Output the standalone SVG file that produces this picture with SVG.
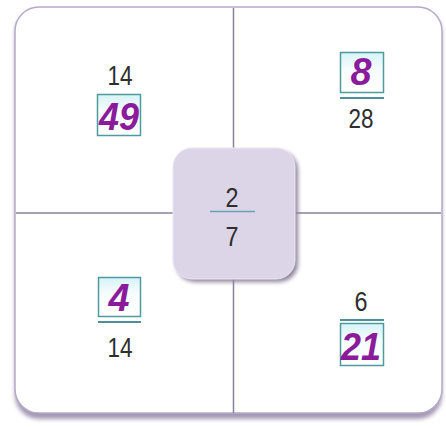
<svg xmlns="http://www.w3.org/2000/svg" width="446" height="428" viewBox="0 0 446 428">
<defs>
<linearGradient id="boxg" x1="0" y1="0" x2="0" y2="1">
<stop offset="0" stop-color="#d6f3f8"/>
<stop offset="0.4" stop-color="#f6fcfd"/>
<stop offset="1" stop-color="#ffffff"/>
</linearGradient>
<filter id="blur" x="-20%" y="-20%" width="140%" height="140%">
<feGaussianBlur stdDeviation="2"/>
</filter>
</defs>
<style>
.num{font-family:"Liberation Sans",Arial,sans-serif;font-size:28px;fill:#2e2e2e;text-anchor:middle}
.ans{font-family:"Liberation Sans",Arial,sans-serif;font-size:38px;font-weight:bold;font-style:italic;fill:#8a1c9c;text-anchor:middle}
.box{fill:url(#boxg);stroke:#4f9a9c;stroke-width:1.5}
.bar{stroke:#4f8f99;stroke-width:2}
.div{stroke:#8a7f9e;stroke-width:1.5;fill:none}
</style>
<rect width="446" height="428" fill="#ffffff"/>
<g id="frame">
<rect x="15" y="10" width="427" height="409" rx="24" fill="#a398b4" filter="url(#blur)"/>
<rect x="15" y="7" width="427" height="406" rx="24" fill="#ffffff" stroke="#b6abc6" stroke-width="1.5"/>
</g>
<g id="connectors">
<line class="div" x1="233.5" y1="8" x2="233.5" y2="150"/>
<line class="div" x1="233.5" y1="278" x2="233.5" y2="413"/>
<line class="div" x1="16" y1="213" x2="175" y2="213"/>
<line class="div" x1="293" y1="213" x2="441" y2="213"/>
</g>
<g id="center">
<rect x="176" y="151" width="122" height="131" rx="19" fill="#8e849c" filter="url(#blur)"/>
<rect x="173" y="148" width="122" height="131" rx="19" fill="#dcd5e8" stroke="#ece8f2" stroke-width="1"/>
<text class="num" x="232" y="207" textLength="13" lengthAdjust="spacingAndGlyphs">2</text>
<line x1="210" y1="211.5" x2="255" y2="211.5" stroke="#6aa0b8" stroke-width="1.5"/>
<text class="num" x="232" y="246" textLength="13" lengthAdjust="spacingAndGlyphs">7</text>
</g>
<g id="q-tl">
<text class="num" x="120" y="85" textLength="25" lengthAdjust="spacingAndGlyphs">14</text>
<rect class="box" x="97.5" y="94.5" width="43" height="41"/>
<text class="ans" x="119" y="130" textLength="40" lengthAdjust="spacingAndGlyphs">49</text>
</g>
<g id="q-tr">
<rect class="box" x="340.5" y="52.5" width="43" height="40"/>
<text class="ans" x="361" y="85" textLength="21" lengthAdjust="spacingAndGlyphs">8</text>
<line class="bar" x1="340" y1="98" x2="384" y2="98"/>
<text class="num" x="361" y="128" textLength="25" lengthAdjust="spacingAndGlyphs">28</text>
</g>
<g id="q-bl">
<rect class="box" x="98.5" y="277.5" width="42" height="39"/>
<text class="ans" x="119" y="311" textLength="21" lengthAdjust="spacingAndGlyphs">4</text>
<line class="bar" x1="98" y1="322" x2="141" y2="322"/>
<text class="num" x="120" y="357" textLength="25" lengthAdjust="spacingAndGlyphs">14</text>
</g>
<g id="q-br">
<text class="num" x="361" y="311" textLength="13" lengthAdjust="spacingAndGlyphs">6</text>
<line class="bar" x1="340" y1="320" x2="384" y2="320"/>
<rect class="box" x="340.5" y="323.5" width="43" height="42"/>
<text class="ans" x="361" y="360" textLength="40" lengthAdjust="spacingAndGlyphs">21</text>
</g>
</svg>
